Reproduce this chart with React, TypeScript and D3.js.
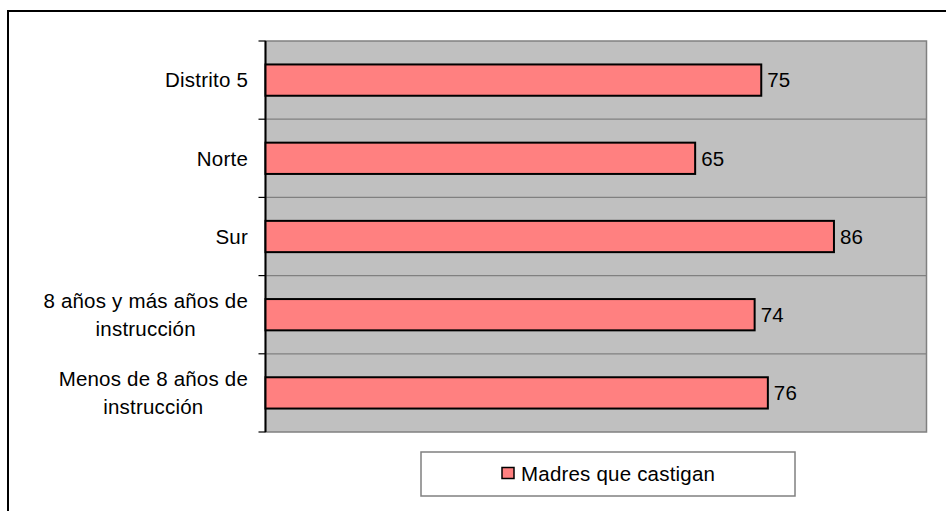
import React, { useEffect, useRef } from "react";
import * as d3 from "d3";

// Categories, top to bottom, each split into its display lines
const categories = [
  "Distrito 5",
  "Norte",
  "Sur",
  "8 años y más años de instrucción",
  "Menos de 8 años de instrucción",
];
const categoryLines = [
  ["Distrito 5"],
  ["Norte"],
  ["Sur"],
  ["8 años y más años de", "instrucción"],
  ["Menos de 8 años de", "instrucción"],
];
const seriesName = "Madres que castigan";
const values = [75, 65, 86, 74, 76];

const W = 946;
const H = 511;
const FONT = "'Liberation Sans', Arial, sans-serif";
const FS = 20.5;
const LS = 0.2;

export default function App() {
  const ref = useRef<SVGSVGElement>(null);

  useEffect(() => {
    const svg = d3.select(ref.current);
    svg.selectAll("*").remove();

    const plot = { left: 265.5, right: 926.5, top: 41, bottom: 432 };

    const x = d3.scaleLinear().domain([0, 100]).range([plot.left, plot.right]);
    const y = d3
      .scaleBand<string>()
      .domain(categories)
      .range([plot.top, plot.bottom])
      .paddingInner(0.6)
      .paddingOuter(0.3);

    // outer chart frame (top and left edges)
    svg
      .append("path")
      .attr("d", `M8,${H} V11 H${W}`)
      .attr("fill", "none")
      .attr("stroke", "#000")
      .attr("stroke-width", 2);

    // plot background
    svg
      .append("rect")
      .attr("x", plot.left)
      .attr("y", plot.top)
      .attr("width", plot.right - plot.left)
      .attr("height", plot.bottom - plot.top)
      .attr("fill", "#C0C0C0")
      .attr("stroke", "#808080")
      .attr("stroke-width", 1.5);

    // horizontal gridlines at category boundaries
    const step = y.step();
    const boundaries = d3.range(categories.length + 1).map((i) => plot.top + i * step);
    svg
      .append("g")
      .selectAll("line")
      .data(boundaries.slice(1, -1))
      .join("line")
      .attr("x1", plot.left)
      .attr("x2", plot.right)
      .attr("y1", (d) => d)
      .attr("y2", (d) => d)
      .attr("stroke", "#808080")
      .attr("stroke-width", 1.2);

    // category axis line and ticks
    svg
      .append("line")
      .attr("x1", plot.left)
      .attr("x2", plot.left)
      .attr("y1", plot.top)
      .attr("y2", plot.bottom)
      .attr("stroke", "#000")
      .attr("stroke-width", 2);
    svg
      .append("g")
      .selectAll("line")
      .data(boundaries)
      .join("line")
      .attr("x1", plot.left - 7)
      .attr("x2", plot.left)
      .attr("y1", (d) => d)
      .attr("y2", (d) => d)
      .attr("stroke", "#000")
      .attr("stroke-width", 1.2);

    // bars
    svg
      .append("g")
      .selectAll("rect")
      .data(values)
      .join("rect")
      .attr("x", x(0))
      .attr("y", (_, i) => y(categories[i])!)
      .attr("width", (d) => x(d) - x(0))
      .attr("height", y.bandwidth())
      .attr("fill", "#FF8080")
      .attr("stroke", "#000")
      .attr("stroke-width", 2);

    // value labels
    svg
      .append("g")
      .selectAll("text")
      .data(values)
      .join("text")
      .attr("x", (d) => x(d) + 6)
      .attr("y", (_, i) => y(categories[i])! + y.bandwidth() / 2)
      .attr("dy", "0.36em")
      .attr("font-family", FONT)
      .attr("font-size", FS)
      .attr("letter-spacing", LS)
      .attr("fill", "#000")
      .text((d) => d);

    // category labels: lines centred on each other, block right-aligned to the axis
    const labelRight = 248;
    const lineH = 28;
    categoryLines.forEach((lines, i) => {
      const cy = y(categories[i])! + y.bandwidth() / 2;
      const g = svg.append("g");
      const texts = lines.map((line, j) =>
        g
          .append("text")
          .attr("y", cy + (j - (lines.length - 1) / 2) * lineH)
          .attr("dy", "0.36em")
          .attr("font-family", FONT)
          .attr("font-size", FS)
          .attr("letter-spacing", LS)
          .attr("fill", "#000")
          .attr("text-anchor", "middle")
          .text(line)
      );
      const widths = texts.map((t) => (t.node() as SVGTextElement).getComputedTextLength());
      const maxW = d3.max(widths) ?? 0;
      texts.forEach((t) => t.attr("x", labelRight - maxW / 2));
    });

    // legend
    const legend = svg.append("g");
    legend
      .append("rect")
      .attr("x", 421)
      .attr("y", 452)
      .attr("width", 374)
      .attr("height", 44)
      .attr("fill", "#fff")
      .attr("stroke", "#808080")
      .attr("stroke-width", 1.5);
    legend
      .append("rect")
      .attr("x", 502)
      .attr("y", 467.5)
      .attr("width", 12)
      .attr("height", 11)
      .attr("fill", "#FF8080")
      .attr("stroke", "#000")
      .attr("stroke-width", 1.5);
    legend
      .append("text")
      .attr("x", 521)
      .attr("y", 474)
      .attr("dy", "0.36em")
      .attr("font-family", FONT)
      .attr("font-size", FS)
      .attr("letter-spacing", LS)
      .attr("fill", "#000")
      .text(seriesName);
  }, []);

  return (
    <svg
      ref={ref}
      width={W}
      height={H}
      style={{ position: "absolute", left: 0, top: 0, background: "#fff" }}
    />
  );
}
